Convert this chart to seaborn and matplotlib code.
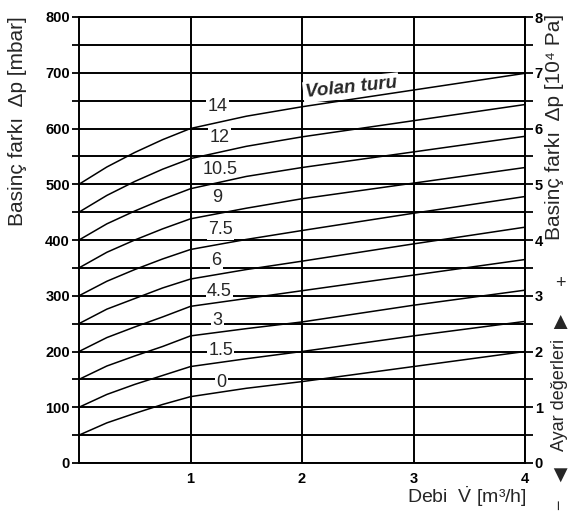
import numpy as np
import pandas as pd
import matplotlib
matplotlib.use("Agg")
import matplotlib.pyplot as plt
import seaborn as sns

# ---- data ----
flow = [0, 0.25, 0.5, 0.75, 1, 1.5, 2, 3, 4]          # m3/h
settings = ["0", "1.5", "3", "4.5", "6", "7.5", "9", "10.5", "12", "14"]
dp_0 = [50, 72, 89, 105, 119, 134, 146, 173, 200]
dp_1_5 = [100, 123, 141, 157, 173, 187, 200, 228, 254]
dp_3 = [150, 174, 192, 209, 228, 241, 253, 283, 310]
dp_4_5 = [200, 225, 244, 262, 281, 295, 309, 337, 365]
dp_6 = [250, 276, 295, 314, 330, 347, 362, 393, 423]
dp_7_5 = [300, 326, 347, 366, 383, 401, 417, 448, 478]
dp_9 = [350, 378, 400, 420, 438, 457, 474, 502, 530]
dp_10_5 = [400, 429, 452, 473, 492, 514, 530, 558, 586]
dp_12 = [450, 480, 505, 527, 546, 568, 585, 614, 643]
dp_14 = [500, 531, 557, 580, 600, 622, 639, 669, 699]
curves = [dp_0, dp_1_5, dp_3, dp_4_5, dp_6, dp_7_5, dp_9, dp_10_5, dp_12, dp_14]

label_x = [1.28, 1.27, 1.24, 1.26, 1.23, 1.27, 1.24, 1.27, 1.26, 1.24]
label_y = [144, 202, 256, 308, 364, 418, 476, 527, 584, 640]

left_ticks = list(range(0, 801, 50))
right_ticks = [0, 1, 2, 3, 4, 5, 6, 7, 8]
x_ticks = [1, 2, 3, 4]

rows = []
for s, vals in zip(settings, curves):
    for f, v in zip(flow, vals):
        rows.append({"setting": s, "flow": f, "dp": v})
df = pd.DataFrame(rows)

sns.set_style("white")
plt.rcParams["font.family"] = ["Liberation Sans", "DejaVu Sans"]
plt.rcParams["mathtext.fontset"] = "custom"
plt.rcParams["mathtext.rm"] = "Liberation Sans"
plt.rcParams["mathtext.it"] = "Liberation Sans:italic"

W, H = 573, 516
fig = plt.figure(figsize=(W / 100, H / 100), dpi=100)
ax = fig.add_axes([79 / W, 1 - 463 / H, (525 - 79) / W, (463 - 17) / H])

sns.lineplot(data=df, x="flow", y="dp", units="setting", estimator=None,
             color="black", lw=1.1, ax=ax, legend=False, zorder=3)

ax.set_xlim(0, 4)
ax.set_ylim(0, 800)
ax.set_yticks(left_ticks)
ax.set_yticklabels([str(v) if v % 100 == 0 else "" for v in left_ticks])
ax.set_xticks(x_ticks)
ax.set_xticklabels([str(v) for v in x_ticks])
ax.grid(True, color="black", lw=1.4)
ax.set_axisbelow(True)
ax.tick_params(axis="y", length=5, width=1.3, direction="out", pad=1.5,
               labelsize=10.5, colors="black")
ax.tick_params(axis="x", length=6, width=1.3, direction="out", pad=0.5,
               labelsize=10.5, colors="black")
for lab in ax.get_xticklabels() + ax.get_yticklabels():
    lab.set_fontweight("bold")
for s in ax.spines.values():
    s.set_color("black")
    s.set_linewidth(1.4)
ax.set_xlabel("")
ax.set_ylabel("")

ax2 = ax.twinx()
ax2.set_ylim(0, 8)
rt = np.arange(0, 8.01, 0.5)
ax2.set_yticks(rt)
ax2.set_yticklabels([str(int(v)) if v == int(v) else "" for v in rt])
ax2.tick_params(axis="y", length=6, width=1.3, direction="out", pad=1,
                labelsize=10.5, colors="black")
for lab in ax2.get_yticklabels():
    lab.set_fontweight("bold")
for s in ax2.spines.values():
    s.set_visible(False)

# curve labels
for s, lx, ly in zip(settings, label_x, label_y):
    ax.text(lx, ly, s, ha="center", va="center", fontsize=13, zorder=2.5,
            bbox=dict(fc="white", ec="none", pad=1.0))
ax.text(2.44, 673, "Volan turu", ha="center", va="center", fontsize=13.5,
        style="italic", weight="bold", rotation=6, zorder=2.5,
        bbox=dict(fc="white", ec="none", pad=1.5))

# axis titles
fig.text(18 / W, 1 - 121 / H, "Basinç farkı  Δp [mbar]", rotation=90,
         ha="center", va="center", fontsize=15)
fig.text(555 / W, 1 - 127 / H, "Basinç farkı  Δp [10⁴ Pa]", rotation=90,
         ha="center", va="center", fontsize=15)
fig.text(560 / W, 1 - 395 / H, "Ayar değerleri", rotation=90,
         ha="center", va="center", fontsize=13)
fig.text(560 / W, 1 - 283 / H, "+", ha="center", va="center", fontsize=13)
fig.text(560 / W, 1 - 323 / H, "▲", ha="center", va="center", fontsize=17)
fig.text(560 / W, 1 - 477 / H, "▼", ha="center", va="center", fontsize=17)
fig.text(560 / W, 1 - 505 / H, "−", rotation=90, ha="center", va="center",
         fontsize=13)
fig.text(527 / W, 1 - 497 / H, r"Debi  $\dot{\mathrm{V}}$ [m³/h]",
         ha="right", va="center", fontsize=14)

fig.savefig("out.png", dpi=100)
